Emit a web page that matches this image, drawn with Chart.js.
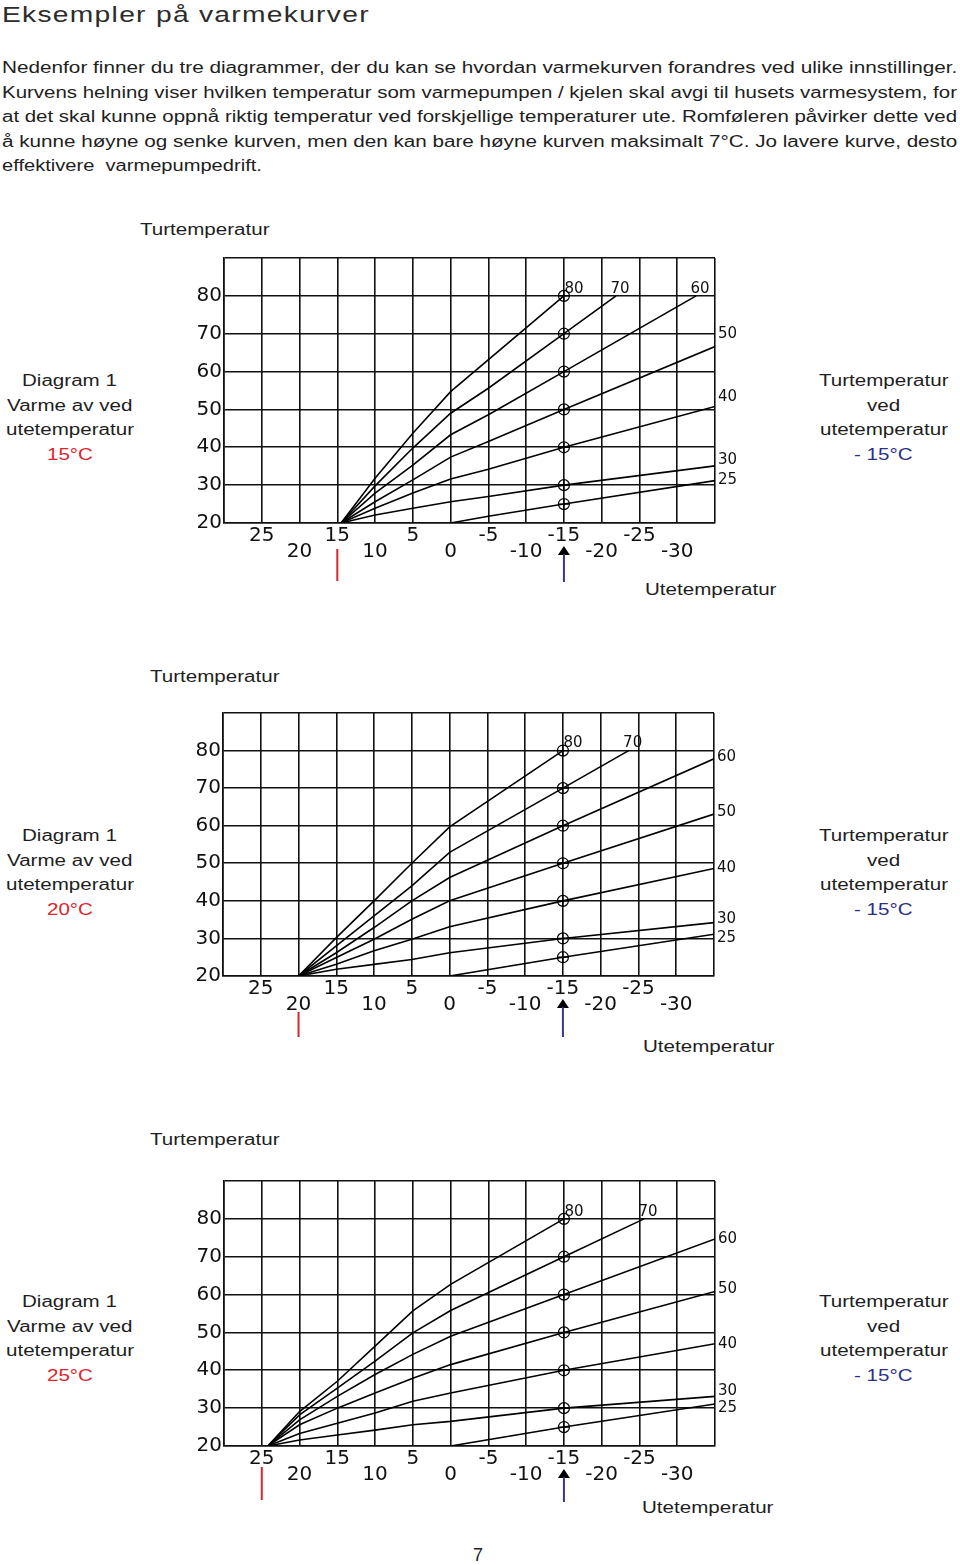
<!DOCTYPE html>
<html><head><meta charset="utf-8">
<script src="https://cdn.jsdelivr.net/npm/chart.js@4.4.1/dist/chart.umd.min.js"></script>
<style>
html,body{margin:0;padding:0;background:#fff;}
body{width:960px;height:1565px;position:relative;overflow:hidden;font-family:"Liberation Sans",Arial,Helvetica,sans-serif;color:#1e1e1e;}
.t{position:absolute;white-space:nowrap;font-size:16px;line-height:20px;transform-origin:0 0;}
canvas{position:absolute;}
</style></head><body>
<div class="t" style="left:2px;top:2px;font-size:22px;line-height:26px;color:#2c2c2c;letter-spacing:1px" data-w="368">Eksempler på varmekurver</div>
<div class="t" style="left:2px;top:58px" data-w="955">Nedenfor finner du tre diagrammer, der du kan se hvordan varmekurven forandres ved ulike innstillinger.</div>
<div class="t" style="left:2px;top:83px" data-w="955">Kurvens helning viser hvilken temperatur som varmepumpen / kjelen skal avgi til husets varmesystem, for</div>
<div class="t" style="left:2px;top:107px" data-w="955">at det skal kunne oppnå riktig temperatur ved forskjellige temperaturer ute. Romføleren påvirker dette ved</div>
<div class="t" style="left:2px;top:132px" data-w="955">å kunne høyne og senke kurven, men den kan bare høyne kurven maksimalt 7°C. Jo lavere kurve, desto</div>
<div class="t" style="left:2px;top:156px" data-w="260">effektivere&nbsp; varmepumpedrift.</div>

<div id="labels"></div>
<canvas id="c1"></canvas>
<canvas id="c2"></canvas>
<canvas id="c3"></canvas>
<div class="t" style="left:473px;top:1544px;font-size:18px;line-height:22px">7</div>

<script>
// ---------- DATA ----------
const outdoorTicks = [30, 25, 20, 15, 10, 5, 0, -5, -10, -15, -20, -25, -30, -35];
const outdoorLabelsUpper = [25, 15, 5, -5, -15, -25];
const outdoorLabelsLower = [20, 10, 0, -10, -20, -30];
const flowTicks = [20, 30, 40, 50, 60, 70, 80, 90];
const flowLabels = [20, 30, 40, 50, 60, 70, 80];
const curveNames = ['80', '70', '60', '50', '40', '30', '25'];
const designOutdoor = -15;
const heatOffTemps = [15, 20, 25];

// Diagram 1 curves: [outdoor °C, flow °C]
const d1_80 = [[14.5,20],[10,31.8],[5,43.7],[0,54.7],[-15,80]];
const d1_70 = [[14.5,20],[10,29.8],[5,39.8],[0,49.0],[-5,55.6],[-15,70],[-21.9,80]];
const d1_60 = [[14.5,20],[10,27.9],[5,35.3],[0,43.3],[-5,48.6],[-15,60],[-32.5,80]];
const d1_50 = [[14.5,20],[10,25.6],[5,31.4],[0,37.4],[-5,41.5],[-15,50],[-35,66.6]];
const d1_40 = [[14.5,20],[10,23.9],[5,27.9],[0,31.6],[-5,34.2],[-15,40],[-35,50.8]];
const d1_30 = [[14.5,20],[10,22.1],[5,23.9],[0,25.6],[-5,27.0],[-15,30],[-35,35.1]];
const d1_25 = [[0,20],[-5,21.8],[-15,25],[-35,31.2]];

// Diagram 2 curves
const d2_80 = [[20,20],[15,30.2],[10,40],[5,50],[0,59.7],[-15,80]];
const d2_70 = [[20,20],[15,28.0],[10,36.0],[5,44.0],[0,52.9],[-15,70],[-23.7,80]];
const d2_60 = [[20,20],[15,26.2],[10,32.9],[5,40],[0,46.2],[-15,60],[-35,77.8]];
const d2_50 = [[20,20],[15,24.9],[10,29.8],[5,35.1],[0,40],[-15,50],[-35,63.1]];
const d2_40 = [[20,20],[15,23.1],[10,26.7],[5,29.8],[0,33.1],[-15,40],[-35,48.6]];
const d2_30 = [[20,20],[15,21.8],[10,23.1],[5,24.4],[0,26.2],[-15,30],[-35,34.2]];
const d2_25 = [[0,20],[-15,25],[-35,31.1]];

// Diagram 3 curves
const d3_80 = [[24.2,20],[20,29.1],[15,37.1],[10,46.4],[5,55.7],[0,62.7],[-15,80]];
const d3_70 = [[24.2,20],[20,28.2],[15,35.3],[10,42.4],[5,49.9],[0,55.8],[-15,70],[-25.6,80]];
const d3_60 = [[24.2,20],[20,26.9],[15,33.1],[10,38.9],[5,44.2],[0,49.0],[-15,60],[-35,74.7]];
const d3_50 = [[24.2,20],[20,25.6],[15,30.0],[10,34.0],[5,37.9],[0,41.5],[-15,50],[-35,60.8]];
const d3_40 = [[24.2,20],[20,23.3],[15,26.0],[10,28.7],[5,31.8],[0,34.0],[-15,40],[-35,47.0]];
const d3_30 = [[24.2,20],[20,21.6],[15,22.9],[10,24.2],[5,25.6],[0,26.5],[-15,30],[-35,33.1]];
const d3_25 = [[0,20],[-15,25],[-35,31.1]];

// ---------- TEXT ----------
const measure = (txt, font) => { const c = document.createElement('canvas').getContext('2d'); c.font = font; return c.measureText(txt).width; };
const SX = 128 / measure('utetemperatur', '16px "Liberation Sans"');

document.querySelectorAll('[data-w]').forEach(el => {
  const nat = el.scrollWidth;
  el.style.transform = 'scaleX(' + (parseFloat(el.dataset.w) / nat) + ')';
});

const labelsDiv = document.getElementById('labels');
function addText(txt, x, cy, align, color) {
  const d = document.createElement('div');
  d.className = 't';
  d.textContent = txt;
  if (color) d.style.color = color;
  labelsDiv.appendChild(d);
  const w = d.scrollWidth * SX;
  const left = align === 'center' ? x - w / 2 : x;
  d.style.left = left + 'px';
  d.style.top = (cy - 10) + 'px';
  d.style.transform = 'scaleX(' + SX + ')';
}
const blocks = [
  {cy: 381, ty: 230, tx: 140, uy: 590, ux: 645, heat: heatOffTemps[0]},
  {cy: 836, ty: 677, tx: 150, uy: 1047, ux: 643, heat: heatOffTemps[1]},
  {cy: 1302, ty: 1140, tx: 150, uy: 1508, ux: 642, heat: heatOffTemps[2]}
];
blocks.forEach(b => {
  addText('Turtemperatur', b.tx, b.ty, 'left');
  addText('Utetemperatur', b.ux, b.uy, 'left');
  addText('Diagram 1', 70, b.cy, 'center');
  addText('Varme av ved', 70, b.cy + 24.5, 'center');
  addText('utetemperatur', 70, b.cy + 49, 'center');
  addText(b.heat + '°C', 70, b.cy + 73.5, 'center', '#e0242b');
  addText('Turtemperatur', 884, b.cy, 'center');
  addText('ved', 884, b.cy + 24.5, 'center');
  addText('utetemperatur', 884, b.cy + 49, 'center');
  addText('- ' + Math.abs(designOutdoor) + '°C', 884, b.cy + 73.5, 'center', '#2b2f85');
});

// ---------- CHARTS ----------
const TICK_FONT = {family: '"DejaVu Sans", sans-serif', size: 20, lineHeight: 16 / 20};
function makeChart(id, g, curves, heat, style) {
  const PADR = 55, YW = 74, PADT = 18, XH = 64;
  const cv = document.getElementById(id);
  const cl = g.left - YW, ct = g.top - PADT;
  const w = g.right + PADR - cl, h = g.bottom + XH - ct;
  cv.width = w; cv.height = h;
  cv.style.left = cl + 'px'; cv.style.top = ct + 'px';
  cv.style.width = w + 'px'; cv.style.height = h + 'px';

  const markers = curves.map(c => { const p = c.find(q => q[0] === designOutdoor); return {x: p[0], y: p[1]}; });
  const datasets = curves.map(c => ({
    data: c.map(p => ({x: p[0], y: p[1]})), showLine: true, borderColor: '#000',
    borderWidth: 1.6, pointRadius: 0, pointHoverRadius: 0, fill: false, tension: 0
  }));
  datasets.push({data: markers, showLine: false, pointStyle: 'circle', pointRadius: 5.5, borderColor: '#000', borderWidth: 1.2, backgroundColor: 'rgba(0,0,0,0)'});
  datasets.push({data: markers, showLine: false, pointStyle: 'cross', pointRadius: 5.5, borderColor: '#000', borderWidth: 1.2});

  const annot = {
    id: 'annot',
    afterDatasetsDraw(chart) {
      const {ctx, scales: {x, y}, chartArea} = chart;
      const B = chartArea.bottom;
      ctx.save();
      ctx.fillStyle = '#111';
      ctx.font = '15px "DejaVu Sans", sans-serif';
      ctx.textBaseline = 'middle';
      curves.forEach((c, i) => {
        const last = c[c.length - 1];
        const px = x.getPixelForValue(last[0]), py = y.getPixelForValue(last[1]);
        const name = curveNames[i];
        if (last[0] <= -35) {
          ctx.textAlign = 'left';
          ctx.fillText(name, px + 3, py + (style.dy[name] || 0));
        } else {
          ctx.textAlign = 'center';
          ctx.fillText(name, px + (i === 0 ? 10 : 4), py - 7);
        }
      });
      // heating-off marker
      const rx = x.getPixelForValue(heat);
      ctx.strokeStyle = '#d8262f'; ctx.lineWidth = 2;
      ctx.beginPath(); ctx.moveTo(rx, B + style.red[0]); ctx.lineTo(rx, B + style.red[1]); ctx.stroke();
      // design outdoor temperature arrow
      const bx = x.getPixelForValue(designOutdoor);
      ctx.fillStyle = '#000';
      ctx.beginPath(); ctx.moveTo(bx, B + 23); ctx.lineTo(bx - 6, B + 32); ctx.lineTo(bx + 6, B + 32); ctx.closePath(); ctx.fill();
      ctx.strokeStyle = '#34378c'; ctx.lineWidth = 2;
      ctx.beginPath(); ctx.moveTo(bx, B + 31); ctx.lineTo(bx, B + style.blue); ctx.stroke();
      ctx.restore();
    }
  };

  new Chart(cv, {
    type: 'scatter',
    data: {datasets},
    options: {
      responsive: false, animation: false, devicePixelRatio: 1, events: [],
      layout: {padding: {left: 0, right: PADR, top: PADT, bottom: 0}},
      plugins: {legend: {display: false}, tooltip: {enabled: false}},
      scales: {
        x: {
          type: 'linear', reverse: true, min: -35, max: 30,
          afterBuildTicks: s => { s.ticks = outdoorTicks.map(v => ({value: v})); },
          afterFit: s => { s.height = XH; },
          grid: {color: '#111', lineWidth: 1.6, drawTicks: false},
          border: {color: '#111', width: 1.6},
          ticks: {
            autoSkip: false, maxRotation: 0, minRotation: 0, padding: 5, color: '#111', font: TICK_FONT,
            callback: v => outdoorLabelsUpper.includes(v) ? String(v) : (outdoorLabelsLower.includes(v) ? [' ', String(v)] : '')
          }
        },
        y: {
          type: 'linear', min: 20, max: 90,
          afterBuildTicks: s => { s.ticks = flowTicks.map(v => ({value: v})); },
          afterFit: s => { s.width = YW; },
          grid: {color: '#111', lineWidth: 1.6, drawTicks: false},
          border: {color: '#111', width: 1.6},
          ticks: {padding: 2, color: '#111', font: TICK_FONT, callback: v => flowLabels.includes(v) ? String(v) : ''}
        }
      }
    },
    plugins: [annot]
  });
}

makeChart('c1', {left: 224, top: 258, right: 715, bottom: 523},
  [d1_80, d1_70, d1_60, d1_50, d1_40, d1_30, d1_25], heatOffTemps[0],
  {dy: {'50': -12, '40': -9, '30': -6, '25': 0}, red: [26, 58], blue: 59});
makeChart('c2', {left: 223, top: 713, right: 714, bottom: 976},
  [d2_80, d2_70, d2_60, d2_50, d2_40, d2_30, d2_25], heatOffTemps[1],
  {dy: {'60': -2, '50': -2, '40': 0, '30': -4, '25': 4}, red: [36, 61], blue: 61});
makeChart('c3', {left: 224, top: 1181, right: 715, bottom: 1446},
  [d3_80, d3_70, d3_60, d3_50, d3_40, d3_30, d3_25], heatOffTemps[2],
  {dy: {'60': 0, '50': -2, '40': 0, '30': -5, '25': 4}, red: [21, 54], blue: 56});
</script>
</body></html>
